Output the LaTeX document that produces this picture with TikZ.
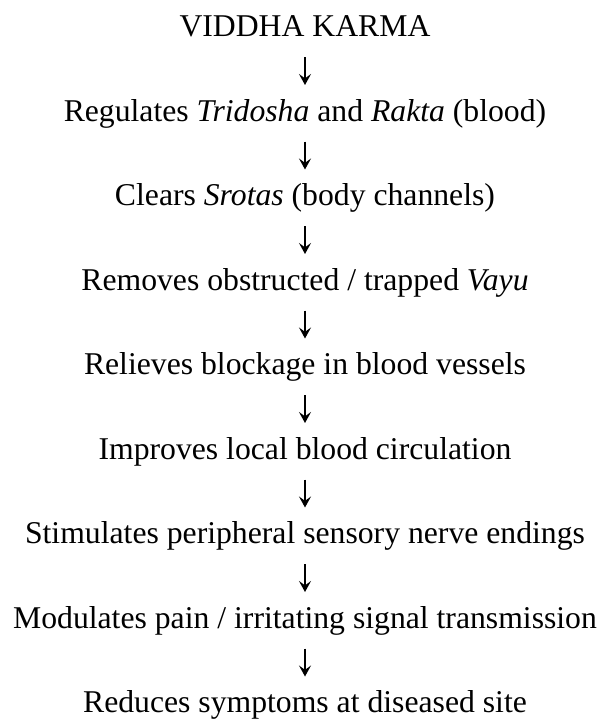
\documentclass[tikz,border=0pt]{standalone}
\usepackage{fontspec}
\setmainfont{Liberation Serif}
\usetikzlibrary{arrows.meta}
\tikzset{
  flowarrow/.style={-{Stealth[length=5.5pt, width=6pt, inset=2.2pt]}, line width=0.9pt, shorten <=10.2pt, shorten >=18.1pt},
  steptext/.style={anchor=base, inner sep=0pt, font=\fontsize{15.85pt}{19pt}\selectfont}
}

\begin{document}
\begin{tikzpicture}
      \useasboundingbox (0,0) rectangle (301.5pt,-359.5pt);
      \node[steptext] (vk) at (152.5pt,-18.35pt) {VIDDHA KARMA};
      \node[steptext] (reg) at (152.5pt,-60.6pt) {Regulates \textit{Tridosha} and \textit{Rakta} (blood)};
      \node[steptext] (clr) at (152.5pt,-102.85pt) {Clears \textit{Srotas} (body channels)};
      \node[steptext] (rem) at (152.5pt,-145.1pt) {Removes obstructed / trapped \textit{Vayu}};
      \node[steptext] (rel) at (152.5pt,-187.35pt) {Relieves blockage in blood vessels};
      \node[steptext] (imp) at (152.5pt,-229.6pt) {Improves local blood circulation};
      \node[steptext] (stim) at (152.5pt,-271.85pt) {Stimulates peripheral sensory nerve endings};
      \node[steptext] (mod) at (152.5pt,-314.1pt) {Modulates pain / irritating signal transmission};
      \node[steptext] (red) at (152.5pt,-356.35pt) {Reduces symptoms at diseased site};
      \draw[flowarrow] (vk.base) -- (reg.base);
      \draw[flowarrow] (reg.base) -- (clr.base);
      \draw[flowarrow] (clr.base) -- (rem.base);
      \draw[flowarrow] (rem.base) -- (rel.base);
      \draw[flowarrow] (rel.base) -- (imp.base);
      \draw[flowarrow] (imp.base) -- (stim.base);
      \draw[flowarrow] (stim.base) -- (mod.base);
      \draw[flowarrow] (mod.base) -- (red.base);
    \end{tikzpicture}
\end{document}
